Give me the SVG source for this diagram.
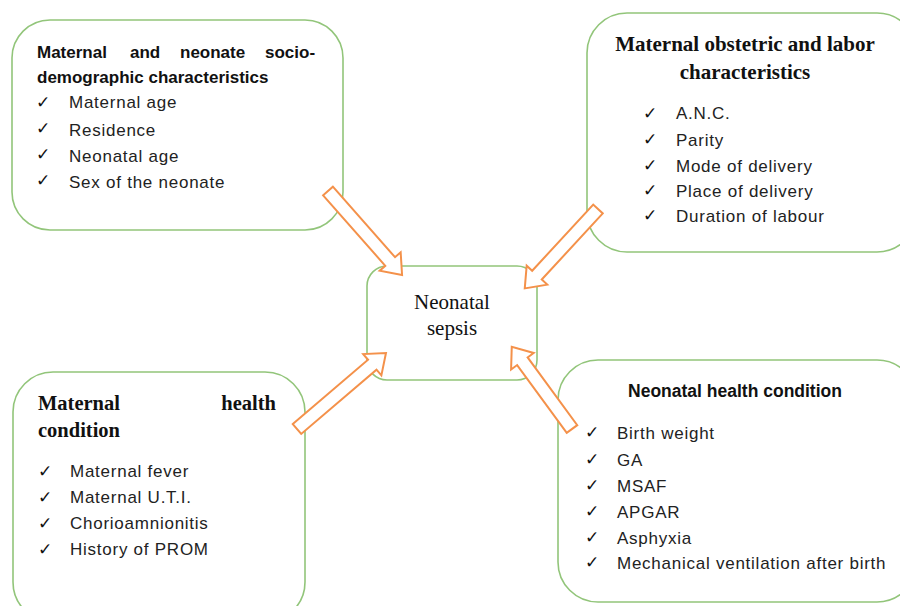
<svg xmlns="http://www.w3.org/2000/svg" width="900" height="606" viewBox="0 0 900 606">
<style>
.box{fill:#fff;stroke:#92C57A;stroke-width:1.6}
.arr{fill:#fff;stroke:#F4914A;stroke-width:2;stroke-linejoin:miter}
.ts{font-family:"Liberation Sans",Arial,sans-serif;font-weight:bold;font-size:17px;fill:#111}
.tr{font-family:"Liberation Serif","Times New Roman",serif;font-weight:bold;font-size:21px;fill:#111}
.it{font-family:"Liberation Sans",Arial,sans-serif;font-size:17px;letter-spacing:0.75px;fill:#222}
.ck{font-family:"DejaVu Sans",sans-serif;font-size:17px;font-weight:bold;fill:#111}
.ctr{font-family:"Liberation Serif","Times New Roman",serif;font-size:21px;fill:#111}
</style>
<rect width="900" height="606" fill="#fff"/>

<g id="n1">
<rect class="box" x="12" y="20" width="331" height="210" rx="38"/>
<text class="ts" y="58"><tspan x="37">Maternal</tspan><tspan x="130">and</tspan><tspan x="180">neonate</tspan><tspan x="265">socio-</tspan></text>
<text class="ts" x="37" y="83">demographic characteristics</text>
<text class="ck" x="36" y="108">✓</text><text class="it" x="69" y="108">Maternal age</text>
<text class="ck" x="36" y="134">✓</text><text class="it" x="69" y="136">Residence</text>
<text class="ck" x="36" y="160">✓</text><text class="it" x="69" y="162">Neonatal age</text>
<text class="ck" x="36" y="186">✓</text><text class="it" x="69" y="188">Sex of the neonate</text>
</g>

<g id="n2">
<rect class="box" x="587" y="13" width="330" height="239" rx="40"/>
<text class="tr" x="745" y="51" text-anchor="middle">Maternal obstetric and labor</text>
<text class="tr" x="745" y="79" text-anchor="middle">characteristics</text>
<text class="ck" x="643" y="119">✓</text><text class="it" x="676" y="119">A.N.C.</text>
<text class="ck" x="643" y="145">✓</text><text class="it" x="676" y="146">Parity</text>
<text class="ck" x="643" y="171">✓</text><text class="it" x="676" y="172">Mode of delivery</text>
<text class="ck" x="643" y="196">✓</text><text class="it" x="676" y="197">Place of delivery</text>
<text class="ck" x="643" y="221">✓</text><text class="it" x="676" y="222">Duration of labour</text>
</g>

<g id="n0">
<rect class="box" x="367" y="266" width="170" height="114" rx="20"/>
<text class="ctr" x="452" y="309" text-anchor="middle">Neonatal</text>
<text class="ctr" x="452" y="335" text-anchor="middle">sepsis</text>
</g>

<g id="n3">
<rect class="box" x="13" y="372" width="292" height="250" rx="40"/>
<text class="tr" style="font-size:20.5px" x="38" y="410">Maternal</text>
<text class="tr" style="font-size:20.5px" x="276" y="410" text-anchor="end">health</text>
<text class="tr" style="font-size:20.5px" x="38" y="437">condition</text>
<text class="ck" x="38" y="477">✓</text><text class="it" x="70" y="477">Maternal fever</text>
<text class="ck" x="38" y="503">✓</text><text class="it" x="70" y="503">Maternal U.T.I.</text>
<text class="ck" x="38" y="529">✓</text><text class="it" x="70" y="529">Chorioamnionitis</text>
<text class="ck" x="38" y="555">✓</text><text class="it" x="70" y="555">History of PROM</text>
</g>

<g id="n4">
<rect class="box" x="558" y="360" width="359" height="242" rx="40"/>
<text class="ts" style="font-size:17.5px" x="735" y="397" text-anchor="middle">Neonatal health condition</text>
<text class="ck" x="585" y="438">✓</text><text class="it" x="617" y="439">Birth weight</text>
<text class="ck" x="585" y="465">✓</text><text class="it" x="617" y="466">GA</text>
<text class="ck" x="585" y="491">✓</text><text class="it" x="617" y="492">MSAF</text>
<text class="ck" x="585" y="517">✓</text><text class="it" x="617" y="518">APGAR</text>
<text class="ck" x="585" y="543">✓</text><text class="it" x="617" y="544">Asphyxia</text>
<text class="ck" x="585" y="568">✓</text><text class="it" x="617" y="569">Mechanical ventilation after birth</text>
</g>

<g id="connectors">
<polygon class="arr" transform="translate(328,191) rotate(48.6)" points="0,-6.5 94,-6.5 94,-14 112,0 94,14 94,6.5 0,6.5"/>
<polygon class="arr" transform="translate(598,209) rotate(132.7)" points="0,-6.5 90,-6.5 90,-14 108,0 90,14 90,6.5 0,6.5"/>
<polygon class="arr" transform="translate(297,429) rotate(-40.5)" points="0,-6.5 99,-6.5 99,-14 117,0 99,14 99,6.5 0,6.5"/>
<polygon class="arr" transform="translate(572,429) rotate(-126.2)" points="0,-6.5 84,-6.5 84,-14 102,0 84,14 84,6.5 0,6.5"/>
</g>
</svg>
